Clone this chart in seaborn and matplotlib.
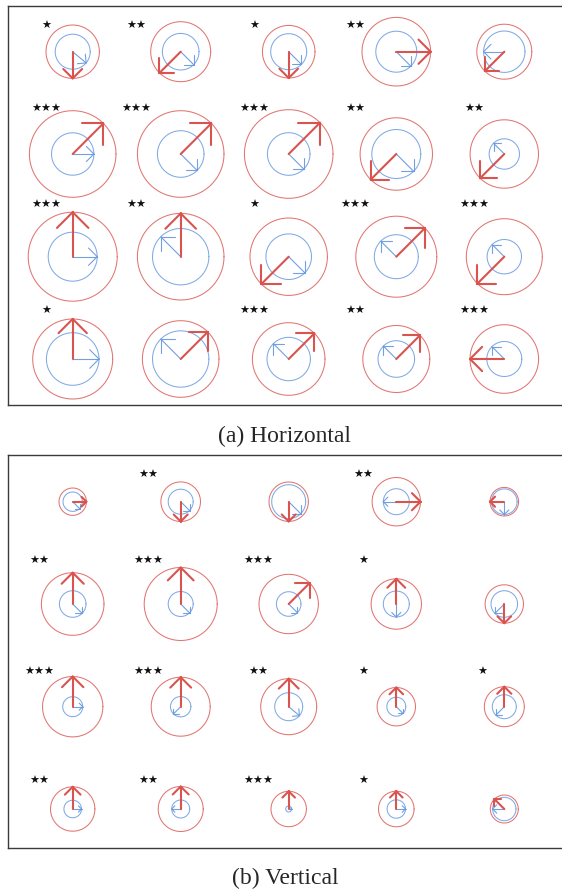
import numpy as np
import pandas as pd
import matplotlib
matplotlib.use("Agg")
import matplotlib.pyplot as plt
import seaborn as sns

# ---------------- data ----------------
# (a) Horizontal  -- 4 rows x 5 columns
h_stars = [["*", "**", "*", "**", ""],
           ["***", "***", "***", "**", "**"],
           ["***", "**", "*", "***", "***"],
           ["*", "", "***", "**", "***"]]
h_red_radius = [[26.7, 30.0, 26.3, 34.3, 27.5],
                [43.3, 43.3, 44.3, 36.2, 34.2],
                [44.5, 43.3, 38.7, 40.5, 38.0],
                [40.0, 38.3, 36.3, 33.5, 34.3]]
h_blue_radius = [[17.5, 18.3, 18.0, 20.5, 20.7],
                 [21.2, 23.3, 21.3, 24.5, 15.2],
                 [24.5, 28.2, 22.8, 22.0, 17.2],
                 [26.3, 28.2, 21.7, 18.3, 17.5]]
h_red_angle = [[270, 225, 270, 0, 225],
               [45, 45, 45, 225, 225],
               [90, 90, 225, 45, 225],
               [90, 45, 45, 45, 180]]
h_blue_angle = [[-40, -45, -45, -45, 180],
                [0, -45, -45, -45, 135],
                [0, 135, -45, 135, 135],
                [0, 135, 135, 135, 135]]

# (b) Vertical
v_stars = [["", "**", "", "**", ""],
           ["**", "***", "***", "*", ""],
           ["***", "***", "**", "*", "*"],
           ["**", "**", "***", "*", ""]]
v_red_radius = [[13.7, 19.8, 19.7, 24.2, 14.3],
                [31.3, 36.5, 29.7, 25.2, 19.2],
                [30.2, 29.5, 28.0, 19.2, 20.0],
                [22.2, 22.5, 17.7, 17.8, 14.0]]
v_blue_radius = [[9.7, 12.5, 17.0, 13.0, 12.8],
                 [13.3, 12.5, 12.3, 13.0, 13.3],
                 [10.0, 10.2, 14.0, 9.5, 12.0],
                 [8.8, 9.0, 3.0, 9.2, 11.7]]
v_red_angle = [[0, 270, 270, 0, 180],
               [90, 90, 45, 90, 270],
               [90, 90, 90, 90, 90],
               [90, 90, 90, 90, 135]]
v_blue_angle = [[-45, -45, -45, 180, 270],
                [-45, -45, -45, 270, 225],
                [0, 225, -40, -45, 225],
                [0, 180, 0, 0, 180]]

captions = ["(a) Horizontal", "(b) Vertical"]

# ---------------- layout ----------------
W, H = 562, 891
COL_X = [72.7, 180.7, 288.7, 396.3, 504.3]
PANELS = [
    dict(top=5.7, bottom=405.0, rows=[51.7, 154.0, 256.7, 359.0],
         star_x=[46, 136, 254, 355, 474], star_y=[26, 109, 205, 310.7],
         cap_y=436),
    dict(top=454.7, bottom=847.7, rows=[501.7, 604.0, 706.7, 809.0],
         star_x=[39, 148, 258.5, 363.5, 482.7], star_y=[475, 561, 671.7, 781],
         cap_y=878),
]
LEFT, RIGHT = 8.3, 565.0
RED = "#d9534f"
BLUE = "#6a9be0"

sns.set_style("white")
plt.rcParams["font.family"] = ["DejaVu Sans"]

fig = plt.figure(figsize=(W / 100, H / 100), dpi=100)


def build_segments(cx, cy, r_red, a_red, r_blue, a_blue, seg0):
    rows = []
    seg = seg0
    th = np.linspace(0, 2 * np.pi, 181)
    for kind, r in (("red_circle", r_red), ("blue_circle", r_blue)):
        for t in th:
            rows.append((seg, kind, cx + r * np.cos(t), cy - r * np.sin(t)))
        seg += 1
    for kind, r, a in (("blue_arrow", r_blue, a_blue), ("red_arrow", r_red, a_red)):
        ang = np.deg2rad(a)
        tx, ty = cx + r * np.cos(ang), cy - r * np.sin(ang)
        rows.append((seg, kind, cx, cy))
        rows.append((seg, kind, tx, ty))
        seg += 1
        hl = 0.5 * r
        for d in (+1, -1):
            b = ang + np.pi + d * np.deg2rad(45)
            rows.append((seg, kind, tx + hl * np.cos(b), ty - hl * np.sin(b)))
            rows.append((seg, kind, tx, ty))
            seg += 1
    return rows, seg


datasets = [
    (h_stars, h_red_radius, h_blue_radius, h_red_angle, h_blue_angle),
    (v_stars, v_red_radius, v_blue_radius, v_red_angle, v_blue_angle),
]

styles = {"red_circle": (RED, 0.75, 0.8), "blue_circle": (BLUE, 0.75, 0.85),
          "blue_arrow": (BLUE, 0.8, 0.95), "red_arrow": (RED, 1.5, 1.0)}

for p, (stars, rr, br, ra, ba), cap in zip(PANELS, datasets, captions):
    ax = fig.add_axes([LEFT / W, 1 - p["bottom"] / H,
                       (RIGHT - LEFT) / W, (p["bottom"] - p["top"]) / H])
    ax.set_xlim(LEFT, RIGHT)
    ax.set_ylim(p["bottom"], p["top"])
    rows = []
    seg = 0
    for i, cy in enumerate(p["rows"]):
        for j, cx in enumerate(COL_X):
            rws, seg = build_segments(cx, cy, rr[i][j], ra[i][j],
                                      br[i][j], ba[i][j], seg)
            rows += rws
            if stars[i][j]:
                ax.text(p["star_x"][j], p["star_y"][i], "\u2605" * len(stars[i][j]),
                        ha="center", va="center", fontsize=8, color="#111111")
    df = pd.DataFrame(rows, columns=["seg", "kind", "x", "y"])
    for kind in ["red_circle", "blue_circle", "blue_arrow", "red_arrow"]:
        col, lw, al = styles[kind]
        sns.lineplot(data=df[df.kind == kind], x="x", y="y", units="seg",
                     estimator=None, sort=False, color=col, linewidth=lw,
                     alpha=al, ax=ax, legend=False)
    ax.set_xlim(LEFT, RIGHT)
    ax.set_ylim(p["bottom"], p["top"])
    ax.set_xticks([])
    ax.set_yticks([])
    ax.set_xlabel("")
    ax.set_ylabel("")
    for s in ax.spines.values():
        s.set_color("#3a3a3a")
        s.set_linewidth(1.0)
    fig.text(285 / W, 1 - p["cap_y"] / H, cap, ha="center", va="center",
             fontsize=17, family=["Liberation Serif", "DejaVu Serif"])

fig.savefig("out.png", dpi=100)
